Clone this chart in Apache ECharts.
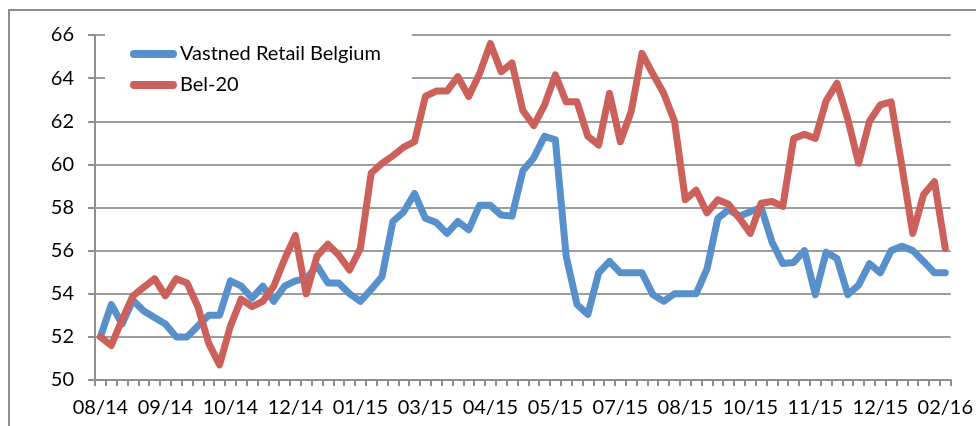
<!DOCTYPE html>
<html>
<head>
<meta charset="utf-8">
<script src="https://cdn.jsdelivr.net/npm/echarts@6/dist/echarts.min.js"></script>
<style>
html,body{margin:0;padding:0;background:#fff;}
#chart{width:976px;height:426px;}
</style>
</head>
<body>
<div id="chart"></div>
<script>
const tickLabels = ['08/14','09/14','10/14','12/14','01/15','03/15','04/15','05/15','07/15','08/15','10/15','11/15','12/15','02/16'];
const seriesNames = ['Vastned Retail Belgium', 'Bel-20'];
const vastned = [
  52.0, 53.5, 52.6, 53.7, 53.2, 52.9, 52.6, 52.0, 52.0, 52.5,
  53.0, 53.0, 54.6, 54.35, 53.8, 54.35, 53.65, 54.35, 54.6, 54.7,
  55.3, 54.5, 54.5, 54.0, 53.65, 54.2, 54.8, 57.35, 57.8, 58.65,
  57.5, 57.3, 56.8, 57.35, 56.97, 58.1, 58.1, 57.65, 57.6, 59.7,
  60.3, 61.3, 61.14, 55.74, 53.5, 53.04, 54.97, 55.5, 54.97, 54.97,
  54.97, 53.96, 53.65, 54.0, 54.0, 54.0, 55.15, 57.5, 57.9, 57.6,
  57.8, 58.0, 56.4, 55.4, 55.45, 56.0, 53.96, 55.93, 55.63, 53.96,
  54.4, 55.4, 54.97, 56.0, 56.2, 56.0, 55.5, 54.97, 54.97
];
const bel20 = [
  52.0, 51.6, 52.8, 53.9, 54.3, 54.7, 53.9, 54.7, 54.5, 53.4,
  51.7, 50.7, 52.5, 53.75, 53.4, 53.65, 54.35, 55.6, 56.7, 54.0,
  55.75, 56.3, 55.8, 55.1, 56.1, 59.6, 60.05, 60.4, 60.8, 61.05,
  63.15, 63.4, 63.4, 64.07, 63.15, 64.2, 65.6, 64.3, 64.7, 62.5,
  61.8, 62.75, 64.15, 62.9, 62.9, 61.3, 60.9, 63.3, 61.05, 62.45,
  65.15, 64.2, 63.3, 62.0, 58.36, 58.8, 57.75, 58.36, 58.15, 57.5,
  56.8, 58.2, 58.28, 58.05, 61.2, 61.4, 61.2, 62.95, 63.76, 62.1,
  60.05, 62.0, 62.76, 62.9, 59.9, 56.8, 58.6, 59.2, 56.1
];
const labelEvery = 6;
const categories = vastned.map((_, i) => i % labelEvery === 0 ? tickLabels[i / labelEvery] : '');

const FONT = 'Lato';
const axisGray = '#8f8f8f';
const chart = echarts.init(document.getElementById('chart'), null, {renderer: 'canvas'});
const capsule = 'path://M4,0 L43,0 A4,4 0 0 1 43,8 L4,8 A4,4 0 0 1 4,0 Z';

chart.setOption({
  animation: false,
  backgroundColor: '#fff',
  graphic: [{
    type: 'rect', z: -10, silent: true,
    shape: {x: 9, y: 10, width: 1000, height: 500},
    style: {fill: 'none', stroke: '#8e8e8e', lineWidth: 2}
  }],
  grid: {left: 95, right: 24, top: 35, bottom: 46, containLabel: false},
  legend: {
    orient: 'vertical',
    left: 105, top: 30,
    padding: [14, 31, 14, 25],
    backgroundColor: '#ffffff',
    itemWidth: 47, itemHeight: 8, itemGap: 11,
    textStyle: {fontFamily: FONT, fontSize: 20, color: '#000', padding: [0, 0, 0, -2]},
    data: [
      {name: seriesNames[0], icon: capsule},
      {name: seriesNames[1], icon: capsule}
    ]
  },
  xAxis: {
    type: 'category',
    data: categories,
    boundaryGap: true,
    axisLine: {lineStyle: {color: axisGray, width: 2}},
    axisTick: {show: true, interval: 0, length: 6, lineStyle: {color: axisGray, width: 2}},
    axisLabel: {
      interval: (i) => i % labelEvery === 0,
      margin: 18, fontFamily: FONT, fontSize: 20, color: '#000'
    },
    splitLine: {show: false}
  },
  yAxis: {
    type: 'value',
    min: 50, max: 66, interval: 2,
    axisLine: {show: true, lineStyle: {color: axisGray, width: 2}},
    axisTick: {show: true, length: 7, inside: false, lineStyle: {color: axisGray, width: 2}},
    axisLabel: {margin: 21, fontFamily: FONT, fontSize: 20, color: '#000', padding: [4, 0, 0, 0]},
    splitLine: {show: true, lineStyle: {color: '#9d9d9d', width: 2}}
  },
  series: [
    {
      name: seriesNames[0], type: 'line', data: vastned,
      showSymbol: false, symbol: 'none', smooth: false,
      lineStyle: {color: '#5890cc', width: 7, cap: 'round', join: 'round'},
      itemStyle: {color: '#5890cc'}
    },
    {
      name: seriesNames[1], type: 'line', data: bel20,
      showSymbol: false, symbol: 'none', smooth: false,
      lineStyle: {color: '#cc605a', width: 7, cap: 'round', join: 'round'},
      itemStyle: {color: '#cc605a'}
    }
  ]
});
</script>
</body>
</html>
